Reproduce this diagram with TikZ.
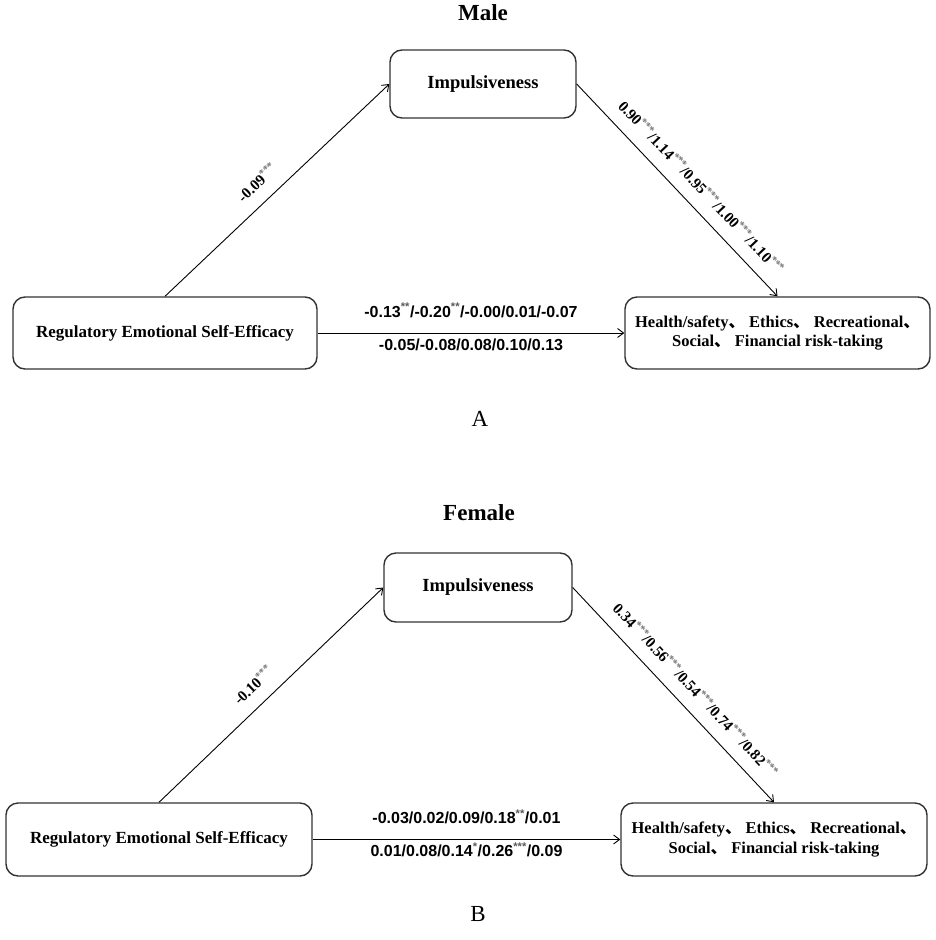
\documentclass[tikz,border=0pt]{standalone}
\usepackage{fontspec}
\setmainfont{Liberation Serif}
\newfontfamily\arialf{Liberation Sans}
\newfontfamily\cjk{Noto Sans CJK SC}
\usetikzlibrary{arrows.meta}
\newcommand{\sst}[1]{\textsuperscript{\textcolor{black!55}{#1}}}
\newcommand{\hst}[1]{\textsuperscript{\textcolor{black!65}{#1}}}
\newcommand{\dun}{{\cjk 、}}
\begin{document}
\begin{tikzpicture}[x=1pt,y=-1pt,
  box/.style={draw=black!80, line width=1.4pt, rounded corners=12pt, fill=white, align=center, inner sep=0pt},
  conn/.style={draw=black, line width=0.9pt, -{Straight Barb[length=6pt,width=9pt]}},
  title/.style={font=\bfseries\fontsize{23}{26}\selectfont, inner sep=0pt},
  panel/.style={font=\fontsize{23}{26}\selectfont, inner sep=0pt},
  slab/.style={font=\bfseries\fontsize{15.2}{17}\selectfont, inner sep=1pt},
  hlab/.style={font=\arialf\bfseries\fontsize{16}{18}\selectfont, inner sep=0pt, anchor=base}]
\useasboundingbox (0,0) rectangle (935,940);

% ---------- Panel A ----------
\node[title, anchor=base] (male) at (483,20) {Male};
\node[box, minimum width=186pt, minimum height=68pt, font=\bfseries\fontsize{18.5}{21}\selectfont] (imp1) at (483,84) {Impulsiveness};
\node[box, minimum width=304pt, minimum height=72pt, font=\bfseries\fontsize{17}{20}\selectfont] (reff1) at (165,333) {Regulatory Emotional Self-Efficacy};
\node[box, minimum width=305pt, minimum height=72pt, font=\bfseries\fontsize{16.5}{19.5}\selectfont] (hlth1) at (777.5,333) {Health/safety\dun{} Ethics\dun{} Recreational\dun\\Social\dun{} Financial risk-taking};
\draw[conn] (reff1.north) -- node[slab, pos=0.47, sloped, above=12pt] (la1) {-0.09\sst{***}} (imp1.west);
\draw[conn] (imp1.east) -- node[slab, pos=0.55, sloped, above=12pt] (lb1) {0.90\sst{***}/1.14\sst{***}/0.95\sst{***}/1.00\sst{***}/1.10\sst{***}} (hlth1.north);
\draw[conn] (reff1.east) -- node[hlab, yshift=16pt] (lc1) {-0.13\hst{**}/-0.20\hst{**}/-0.00/0.01/-0.07}
  node[hlab, yshift=-17pt] (ld1) {-0.05/-0.08/0.08/0.10/0.13} (hlth1.west);
\node[panel, anchor=base] (pa) at (480,426) {A};

% ---------- Panel B ----------
\node[title, anchor=base] (female) at (479,520) {Female};
\node[box, minimum width=188pt, minimum height=69pt, font=\bfseries\fontsize{18.5}{21}\selectfont] (imp2) at (478,587.5) {Impulsiveness};
\node[box, minimum width=306pt, minimum height=73pt, font=\bfseries\fontsize{17}{20}\selectfont] (reff2) at (159,839.5) {Regulatory Emotional Self-Efficacy};
\node[box, minimum width=306pt, minimum height=73pt, font=\bfseries\fontsize{16.5}{19.5}\selectfont] (hlth2) at (774,839.5) {Health/safety\dun{} Ethics\dun{} Recreational\dun\\Social\dun{} Financial risk-taking};
\draw[conn] (reff2.north) -- node[slab, pos=0.48, sloped, above=12pt] (la2) {-0.10\sst{***}} (imp2.west);
\draw[conn] (imp2.east) -- node[slab, pos=0.54, sloped, above=12pt] (lb2) {0.34\sst{***}/0.56\sst{***}/0.54\sst{***}/0.74\sst{***}/0.82\sst{***}} (hlth2.north);
\draw[conn] (reff2.east) -- node[hlab, yshift=16pt] (lc2) {-0.03/0.02/0.09/0.18\hst{**}/0.01}
  node[hlab, yshift=-17pt] (ld2) {0.01/0.08/0.14\hst{*}/0.26\hst{***}/0.09} (hlth2.west);
\node[panel, anchor=base] (pb) at (478,921) {B};
\end{tikzpicture}
\end{document}
